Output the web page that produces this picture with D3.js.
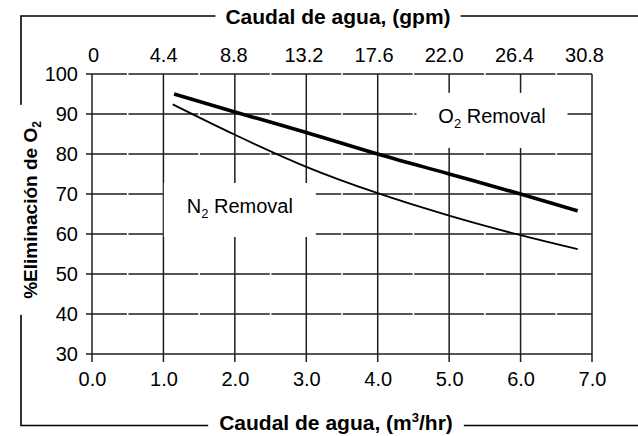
<!DOCTYPE html>
<html>
<head>
<meta charset="utf-8">
<script src="https://cdn.jsdelivr.net/npm/d3@7"></script>
<style>
  html, body { margin: 0; padding: 0; background: #fff; }
  svg { display: block; font-family: "Liberation Sans", Arial, sans-serif; }
</style>
</head>
<body>
<svg id="chart" width="638" height="436"></svg>
<script>
// ---- data ----
const xTicks = [0, 1, 2, 3, 4, 5, 6, 7];                 // m3/hr
const topTickLabels = ["0", "4.4", "8.8", "13.2", "17.6", "22.0", "26.4", "30.8"]; // gpm
const yTicks = [30, 40, 50, 60, 70, 80, 90, 100];

const o2Flow = [1.15, 2.0, 3.0, 4.0, 5.0, 6.0, 6.8];
const o2Removal = [95.0, 90.5, 85.4, 80.0, 75.0, 70.0, 65.8];

const n2Flow = [1.13, 2.0, 3.0, 4.0, 5.0, 6.0, 6.8];
const n2Removal = [92.4, 84.8, 76.8, 70.2, 64.6, 59.7, 56.2];

// ---- layout ----
const W = 638, H = 436;
const plot = { left: 92, top: 74, right: 592, bottom: 354 };
const frame = { left: 21, top: 16, bottom: 425.5 };
const FONT_TICK = 20, FONT_TITLE = 21;

const svg = d3.select("#chart");

const x = d3.scaleLinear().domain([0, 7]).range([plot.left, plot.right]);
const y = d3.scaleLinear().domain([30, 100]).range([plot.bottom, plot.top]);

// top (gpm) labels sit on a slightly tighter spacing than the grid
const xTop = d3.scalePoint()
    .domain(topTickLabels)
    .range([plot.left + 1, plot.right - 8]);

// outer frame
svg.append("path")
    .attr("d", `M ${W} ${frame.top} H ${frame.left} V ${frame.bottom} H ${W}`)
    .attr("fill", "none")
    .attr("stroke", "#000")
    .attr("stroke-width", 1.6);

// grid
const grid = svg.append("g").attr("stroke", "#1e1e1e").attr("stroke-width", 1.5);
const cell = x(1) - x(0);
const gap = 1.6;

grid.selectAll(".hgrid")
    .data(yTicks)
    .join("line")
    .attr("x1", plot.left - 6)
    .attr("x2", plot.right)
    .attr("y1", d => y(d))
    .attr("y2", d => y(d))
    .attr("stroke-dasharray", d => d === 30 ? null : `${cell - gap} ${gap}`)
    .attr("stroke-dashoffset", d => d === 30 ? null : (cell / 2 - gap / 2) - 6);

grid.selectAll(".vgrid")
    .data(xTicks)
    .join("line")
    .attr("x1", d => x(d))
    .attr("x2", d => x(d))
    .attr("y1", plot.top)
    .attr("y2", plot.bottom + 8);

// series labels with white boxes
const labels = [
    { sym: "N", cx: x(2.07), cy: y(66), w: 152, h: 54 },
    { sym: "O", cx: x(5.6), cy: y(88.4), w: 151, h: 55 }
];

const lab = svg.selectAll(".lab").data(labels).join("g");
lab.append("rect")
    .attr("x", d => d.cx - d.w / 2)
    .attr("y", d => d.cy - d.h / 2)
    .attr("width", d => d.w)
    .attr("height", d => d.h)
    .attr("fill", "#fff");

const lt = lab.append("text")
    .attr("x", d => d.cx)
    .attr("y", d => d.cy + 3)
    .attr("text-anchor", "middle")
    .style("font-size", FONT_TICK + "px")
    .attr("fill", "#000");
lt.append("tspan").text(d => d.sym);
lt.append("tspan").attr("dy", 5).style("font-size", "13px").text("2");
lt.append("tspan").attr("dy", -5).text(" Removal");

// curves
const line = d3.line().curve(d3.curveMonotoneX);

svg.append("path")
    .attr("d", line(n2Flow.map((f, i) => [x(f), y(n2Removal[i])])))
    .attr("fill", "none")
    .attr("stroke", "#000")
    .attr("stroke-width", 1.8);

svg.append("path")
    .attr("d", line(o2Flow.map((f, i) => [x(f), y(o2Removal[i])])))
    .attr("fill", "none")
    .attr("stroke", "#000")
    .attr("stroke-width", 3.6);

// axes (labels only, lines are the grid)
svg.append("g")
    .attr("transform", `translate(0,${plot.bottom})`)
    .call(d3.axisBottom(x).tickValues(xTicks).tickFormat(d3.format(".1f")).tickSize(0).tickPadding(18));

svg.append("g")
    .attr("transform", `translate(0,${plot.top})`)
    .call(d3.axisTop(xTop).tickSize(0).tickPadding(12));

svg.append("g")
    .attr("transform", `translate(${plot.left},0)`)
    .call(d3.axisLeft(y).tickValues(yTicks).tickSize(0).tickPadding(14));

svg.selectAll(".domain").remove();
svg.selectAll(".tick text")
    .attr("fill", "#000")
    .style("font-family", "'Liberation Sans', Arial, sans-serif")
    .style("font-size", FONT_TICK + "px");

// titles sitting on the frame
function boxed(textSel, padX, padY) {
    const b = textSel.node().getBBox();
    svg.insert("rect", () => textSel.node())
        .attr("x", b.x - padX)
        .attr("y", b.y - padY)
        .attr("width", b.width + 2 * padX)
        .attr("height", b.height + 2 * padY)
        .attr("fill", "#fff")
        .attr("transform", textSel.attr("transform"));
}

const cx = (plot.left + plot.right) / 2;

const topTitle = svg.append("text")
    .attr("x", cx - 4)
    .attr("y", frame.top + 7.5)
    .attr("text-anchor", "middle")
    .style("font-size", FONT_TITLE + "px")
    .style("font-weight", "bold")
    .text("Caudal de agua, (gpm)");
boxed(topTitle, 10, 0);

const bottomTitle = svg.append("text")
    .attr("x", cx - 6)
    .attr("y", frame.bottom + 4.5)
    .attr("text-anchor", "middle")
    .style("font-size", FONT_TITLE + "px")
    .style("font-weight", "bold");
bottomTitle.append("tspan").text("Caudal de agua, (m");
bottomTitle.append("tspan").attr("dy", -8).style("font-size", "13px").text("3");
bottomTitle.append("tspan").attr("dy", 8).text("/hr)");
boxed(bottomTitle, 11, 0);

const yTitle = svg.append("text")
    .attr("transform", `translate(${frame.left + 16},${(plot.top + plot.bottom) / 2 - 4}) rotate(-90)`)
    .attr("text-anchor", "middle")
    .style("font-size", "19px")
    .style("font-weight", "bold");
yTitle.append("tspan").text("%Eliminación de O");
yTitle.append("tspan").attr("dy", 4).style("font-size", "12px").text("2");
boxed(yTitle, 16, 0);
</script>
</body>
</html>
